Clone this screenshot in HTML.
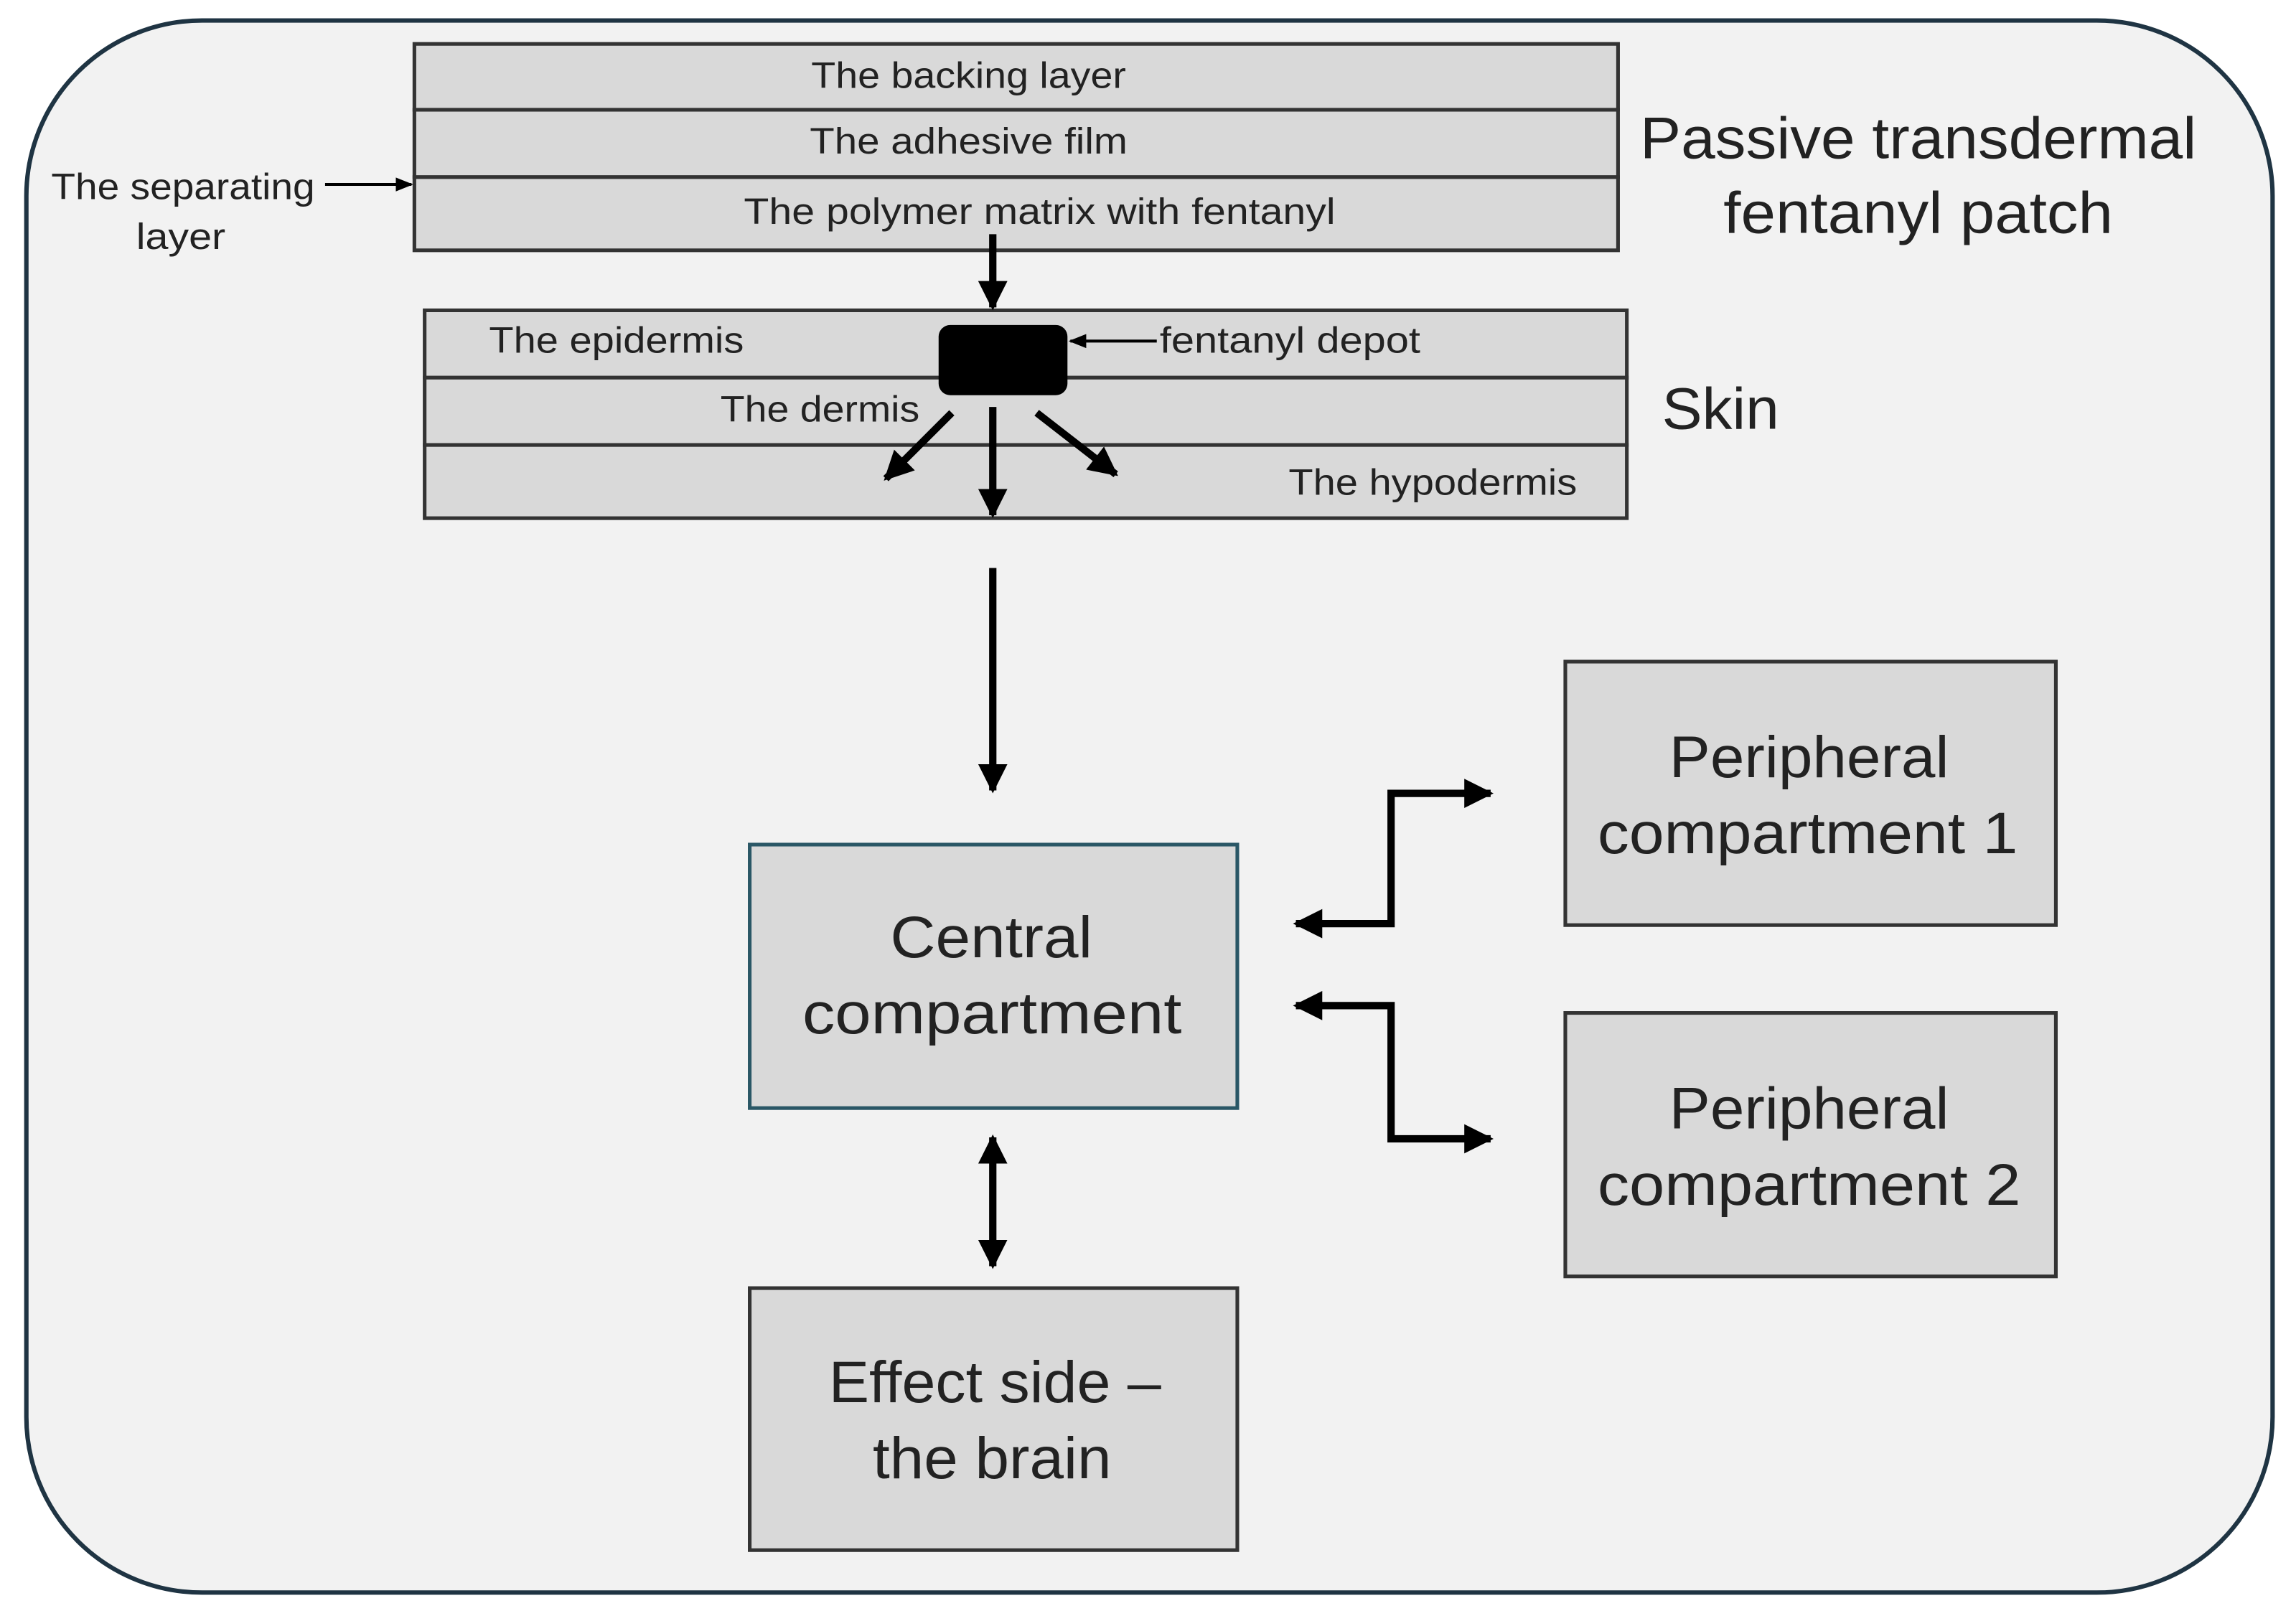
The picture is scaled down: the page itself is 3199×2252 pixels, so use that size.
<!DOCTYPE html>
<html><head><meta charset="utf-8"><style>
html,body{margin:0;padding:0;background:#fff;}
svg{display:block;}
text{font-family:"Liberation Sans",sans-serif;fill:#222;}
</style></head><body>
<svg width="3199" height="2252" viewBox="0 0 1568 1104" preserveAspectRatio="none" xmlns="http://www.w3.org/2000/svg">
<defs>
<marker id="ah" viewBox="0 0 10 10" refX="9" refY="5" markerWidth="4" markerHeight="4" orient="auto-start-reverse" markerUnits="strokeWidth"><path d="M0,0 L10,5 L0,10 z" fill="#000"/></marker>
<marker id="sa" viewBox="0 0 10 10" refX="9" refY="5" markerWidth="6" markerHeight="6" orient="auto" markerUnits="strokeWidth"><path d="M0,1 L10,5 L0,9 z" fill="#000"/></marker>
</defs>
<rect x="18" y="14" width="1534" height="1074" rx="120" fill="#f2f2f2" stroke="#1f3443" stroke-width="3"/>
<g fill="#d9d9d9" stroke="#333" stroke-width="2.5">
<rect x="283" y="30" width="822" height="45"/>
<rect x="283" y="75" width="822" height="46"/>
<rect x="283" y="121" width="822" height="50"/>
<rect x="290" y="212" width="821" height="46"/>
<rect x="290" y="258" width="821" height="46"/>
<rect x="290" y="304" width="821" height="50"/>
</g>
<g fill="#d9d9d9" stroke-width="2.5">
<rect x="512" y="577" width="333" height="180" stroke="#2a5766"/>
<rect x="512" y="880" width="333" height="179" stroke="#333"/>
<rect x="1069" y="452" width="335" height="180" stroke="#333"/>
<rect x="1069" y="692" width="335" height="180" stroke="#333"/>
</g>
<g font-size="25">
<text x="554" y="60" textLength="215" lengthAdjust="spacingAndGlyphs">The backing layer</text>
<text x="553" y="105" textLength="217" lengthAdjust="spacingAndGlyphs">The adhesive film</text>
<text x="508" y="153" textLength="404" lengthAdjust="spacingAndGlyphs">The polymer matrix with fentanyl</text>
<text x="35" y="136" textLength="180" lengthAdjust="spacingAndGlyphs">The separating</text>
<text x="93" y="170" textLength="61" lengthAdjust="spacingAndGlyphs">layer</text>
<text x="334" y="241" textLength="174" lengthAdjust="spacingAndGlyphs">The epidermis</text>
<text x="492" y="288" textLength="136" lengthAdjust="spacingAndGlyphs">The dermis</text>
<text x="880" y="338" textLength="197" lengthAdjust="spacingAndGlyphs">The hypodermis</text>
<text x="792" y="241" textLength="178" lengthAdjust="spacingAndGlyphs">fentanyl depot</text>
</g>
<g font-size="40">
<text x="1120" y="108" textLength="380" lengthAdjust="spacingAndGlyphs">Passive transdermal</text>
<text x="1177" y="159" textLength="266" lengthAdjust="spacingAndGlyphs">fentanyl patch</text>
<text x="1135" y="293" textLength="80" lengthAdjust="spacingAndGlyphs">Skin</text>
<text x="608" y="654" textLength="138" lengthAdjust="spacingAndGlyphs">Central</text>
<text x="548" y="706" textLength="259" lengthAdjust="spacingAndGlyphs">compartment</text>
<text x="566" y="958" textLength="227" lengthAdjust="spacingAndGlyphs">Effect side –</text>
<text x="596" y="1010" textLength="163" lengthAdjust="spacingAndGlyphs">the brain</text>
<text x="1140" y="531" textLength="191" lengthAdjust="spacingAndGlyphs">Peripheral</text>
<text x="1091" y="583" textLength="287" lengthAdjust="spacingAndGlyphs">compartment 1</text>
<text x="1140" y="771" textLength="191" lengthAdjust="spacingAndGlyphs">Peripheral</text>
<text x="1091" y="823" textLength="289" lengthAdjust="spacingAndGlyphs">compartment 2</text>
</g>
<line x1="222" y1="126" x2="281" y2="126" stroke="#000" stroke-width="2" marker-end="url(#sa)"/>
<line x1="790" y1="233" x2="731" y2="233" stroke="#000" stroke-width="2" marker-end="url(#sa)"/>
<rect x="641" y="222" width="88" height="48" rx="8" fill="#000"/>
<g stroke="#000" stroke-width="5" fill="none" marker-end="url(#ah)">
<line x1="678" y1="160" x2="678" y2="210"/>
<line x1="678" y1="278" x2="678" y2="352"/>
<line x1="650" y1="282" x2="605" y2="327"/>
<line x1="708" y1="282" x2="762" y2="324"/>
<line x1="678" y1="388" x2="678" y2="540"/>
<line x1="678" y1="777" x2="678" y2="865" marker-start="url(#ah)"/>
<polyline points="885,631 950,631 950,542 1018,542" marker-start="url(#ah)"/>
<polyline points="885,687 950,687 950,778 1018,778" marker-start="url(#ah)"/>
</g>
</svg>
</body></html>
